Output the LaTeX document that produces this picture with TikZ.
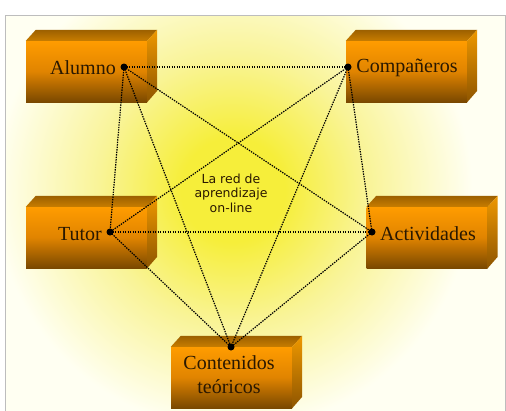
\documentclass[tikz,border=0pt]{standalone}
\usepackage{fontspec}
\setmainfont{Liberation Serif}
\newfontfamily\netsans{DejaVu Sans}
\usetikzlibrary{calc}

\definecolor{cream}{HTML}{FFFFF2}
\definecolor{glowcore}{HTML}{F6EE3A}
\definecolor{glowmid}{HTML}{F9F498}
\definecolor{framegray}{HTML}{BDBDBD}
\definecolor{boxtop}{HTML}{FF9C00}
\definecolor{boxmid}{HTML}{E08400}
\definecolor{boxbot}{HTML}{7A4800}
\definecolor{lidback}{HTML}{9C6000}
\definecolor{lidfront}{HTML}{C87D00}
\definecolor{sidetop}{HTML}{EE9800}
\definecolor{sidebot}{HTML}{8E5500}
\definecolor{labelink}{HTML}{2A1800}

% radial glow; the part out to 25bp is fitted to the shaded path
\pgfdeclareradialshading{glow}{\pgfpoint{0bp}{0bp}}{%
  color(0bp)=(glowcore); color(5bp)=(glowcore); color(13bp)=(glowmid);
  color(23bp)=(cream); color(50bp)=(cream)}

\tikzset{
  front/.style={minimum width=121pt, minimum height=61pt, inner sep=0pt,
    draw=none, top color=boxtop, bottom color=boxbot, middle color=boxmid},
  lid/.style={top color=lidback, bottom color=lidfront},
  sideface/.style={top color=sidetop, bottom color=sidebot},
  boxlabel/.style={font=\fontsize{20}{24}\selectfont, text=labelink,
    align=center, inner sep=0pt},
  hub/.style={circle, fill=black, minimum size=7pt, inner sep=0pt},
  link/.style={draw=black, line width=1.2pt, dash pattern=on 1.4pt off 1.1pt},
}

% an orange crate: front face node plus its lid and right-hand side
\newcommand\crate[3]{%
  \node[front] (#1) at (#2,#3) {};
  \shade[lid] (#1.north west) -- ++(10,-11) -- ($(#1.north east)+(10,-11)$)
     -- (#1.north east) -- cycle;
  \shade[sideface] (#1.north east) -- ++(10,-11) -- ++(0,61)
     -- (#1.south east) -- cycle;
}

\begin{document}
\begin{tikzpicture}[x=1pt, y=-1pt]
\useasboundingbox (0,0) rectangle (506,410);
\fill[white] (0,0) rectangle (506,410);

% glowing backdrop inside the frame
\begin{scope}
  \clip (5,15) rectangle (505,416);
  \fill[cream] (5,15) rectangle (505,416);
  \shade[shading=glow] (233,190) circle (260);
\end{scope}
\draw[framegray, line width=1pt] (5,15) rectangle (505,416);

% crates
\crate{alumno}{86.5}{71.5}
\crate{companeros}{406.5}{71.5}
\crate{tutor}{86.5}{237.5}
\crate{actividades}{427}{237.5}
\crate{contenidos}{231.5}{377.5}

% crate captions
\node[boxlabel] (lalumno) at (83,68) {Alumno};
\node[boxlabel] (lcompaneros) at (407,68) {Compañeros};
\node[boxlabel] (ltutor) at (80,234) {Tutor};
\node[boxlabel] (lactividades) at (428,234) {Actividades};
\node[boxlabel] (lcontenidos) at (229,375) {Contenidos\\teóricos};

% central caption
\node[font=\netsans\fontsize{12.5}{14.5}\selectfont, text=labelink,
  align=center, inner sep=0pt] (red) at (231,193)
  {La red de\\aprendizaje\\on-line};

% network hubs
\node[hub] (a) at (124,67) {};
\node[hub] (c) at (348,67) {};
\node[hub] (t) at (110,232) {};
\node[hub] (v) at (372,232) {};
\node[hub] (k) at (231,347) {};

% every pair of hubs is linked
\foreach \p/\q in {a/c, a/t, a/v, a/k, c/t, c/v, c/k, t/v, t/k, v/k}
  \draw[link] (\p.center) -- (\q.center);
\end{tikzpicture}
\end{document}
